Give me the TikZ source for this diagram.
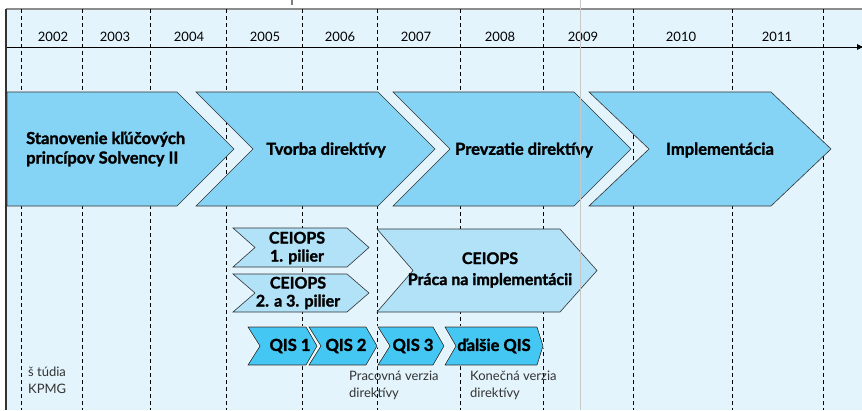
\documentclass[tikz,border=0pt]{standalone}
\usepackage{fontspec}
\setmainfont{Lato}[BoldFeatures={FakeBold=1.6}]
\usetikzlibrary{arrows.meta}
\definecolor{bgblue}{HTML}{E3F4FC}
\definecolor{phaseblue}{HTML}{86D4F5}
\definecolor{ceiopsblue}{HTML}{B1E2F8}
\definecolor{qisblue}{HTML}{45C7F3}
\begin{document}
\begin{tikzpicture}[x=1pt, y=-1pt,
  phase/.style={draw=black!80, line width=0.6pt, fill=phaseblue},
  ceiops/.style={draw=black!80, line width=0.6pt, fill=ceiopsblue},
  qis/.style={draw=black!85, line width=0.6pt, fill=qisblue, preaction={draw=white, line width=2.2pt}},
  boldtext/.style={font=\fontsize{16.5}{19.5}\selectfont\bfseries, inner sep=0pt, align=center},
  yeartext/.style={font=\fontsize{13}{15}\selectfont, inner sep=0pt},
  notetext/.style={font=\fontsize{13}{17}\selectfont, text=black!80, inner sep=0pt, align=left, anchor=west}]
  \useasboundingbox (0,0) rectangle (862,410);
  % Background
  \fill[bgblue] (6,9) rectangle (862,410);
  \draw[black!45, line width=1.2pt] (6,9) -- (862,9);
  \draw[black!80, line width=1.5pt] (6,9) -- (6,410);
  \draw[black!50, line width=1.5pt] (292,0) -- (292,5);
  % Year grid
  \foreach \x in {21,82,150,226,302,377,460,543,633,732,823}
    \draw[dash pattern=on 4pt off 3pt, line width=0.6pt] (\x,9) -- (\x,410);
  \foreach \yr/\x in {2002/53,2003/115,2004/189,2005/265,2006/340,2007/416,2008/500,2009/583,2010/681,2011/777}
    \node (y\yr) [yeartext] at (\x,37) {\yr};
  % Axis
  \coordinate (axisstart) at (7,47);
  \coordinate (axisend) at (864,47);
  \draw[-{Latex[length=7pt,width=6pt]}, line width=0.8pt] (axisstart) -- (axisend);
  % Phases
  \draw[phase] (7,92) -- (177,92) -- (234,149) -- (177,206) -- (7,206) -- cycle;
  \draw[phase] (196,92) -- (378,92) -- (435,149) -- (378,206) -- (196,206) -- (253,149) -- cycle;
  \draw[phase] (393,92) -- (574,92) -- (631,149) -- (574,206) -- (393,206) -- (450,149) -- cycle;
  \draw[phase] (589,92) -- (771,92) -- (831,149) -- (771,206) -- (589,206) -- (649,149) -- cycle;
  \node (principles) [boldtext, align=left, anchor=west] at (26,149) {Stanovenie kľúčových\\princípov Solvency II};
  \node (drafting) [boldtext] at (326,150) {Tvorba direktívy};
  \node (adoption) [boldtext] at (524,150) {Prevzatie direktívy};
  \node (implement) [boldtext] at (720,150) {Implementácia};
  % CEIOPS
  \draw[ceiops] (233,228) -- (347,228) -- (369,247.5) -- (347,267) -- (233,267) -- (255,247.5) -- cycle;
  \draw[ceiops] (233,274) -- (347,274) -- (369,293) -- (347,312) -- (233,312) -- (255,293) -- cycle;
  \draw[ceiops] (377,229) -- (560,229) -- (597,270.5) -- (560,312) -- (377,312) -- (413,270.5) -- cycle;
  \node (pillar1) [boldtext, font=\fontsize{16}{18}\selectfont\bfseries] at (297,248) {CEIOPS\\1. pilier};
  \node (pillar23) [boldtext, font=\fontsize{16}{18}\selectfont\bfseries] at (298,293) {CEIOPS\\2. a 3. pilier};
  \node (implwork) [boldtext, font=\fontsize{16}{21}\selectfont\bfseries] at (490,270) {CEIOPS\\Práca na implementácii};
  % QIS
  \draw[qis] (248,327) -- (306,327) -- (317,346) -- (306,365) -- (248,365) -- (260,346) -- cycle;
  \draw[qis] (309,327) -- (366,327) -- (377,346) -- (366,365) -- (309,365) -- (321,346) -- cycle;
  \draw[qis] (378,327) -- (433,327) -- (444,346) -- (433,365) -- (378,365) -- (390,346) -- cycle;
  \draw[qis] (445,327) -- (537,327) -- (543,346) -- (537,365) -- (445,365) -- (456,346) -- cycle;
  \node (qis1) [boldtext] at (290,346) {QIS 1};
  \node (qis2) [boldtext] at (346,346) {QIS 2};
  \node (qis3) [boldtext] at (413,346) {QIS 3};
  \node (qismore) [boldtext] at (494,346) {ďalšie QIS};
  % Notes
  \node (draft) [notetext] at (349,385.5) {Pracovná verzia\\direktívy};
  \node (final) [notetext] at (470,385.5) {Konečná verzia\\direktívy};
  \node (kpmg) [notetext] at (28,380) {š túdia\\KPMG};
  % Marker line
  \draw[black!22, line width=1pt] (580,0) -- (580,410);
\end{tikzpicture}
\end{document}
